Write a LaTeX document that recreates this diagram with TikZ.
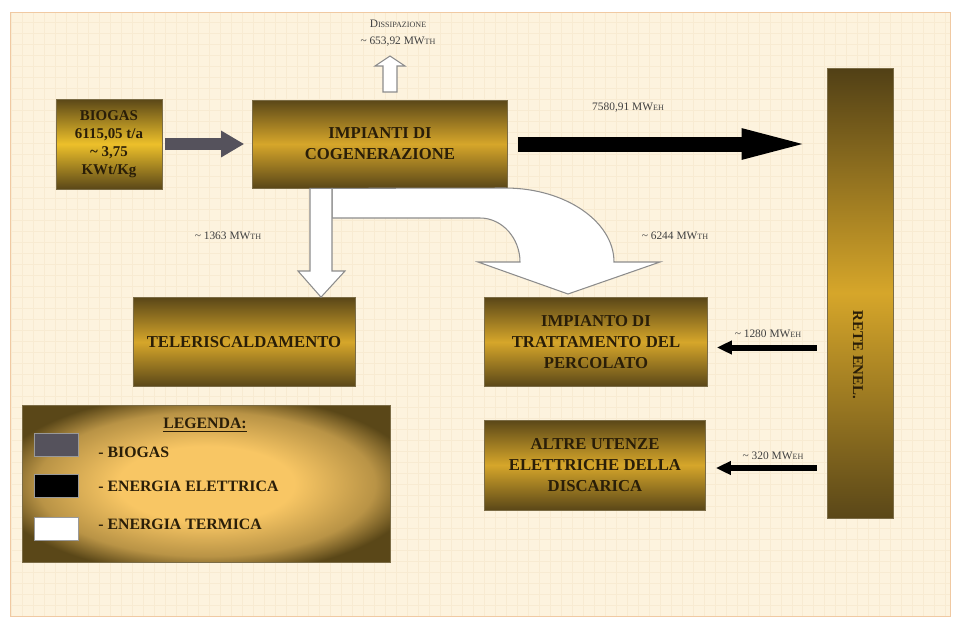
\documentclass[tikz,border=0pt]{standalone}
\usepackage{fontspec}
\setmainfont{Liberation Serif}
\usetikzlibrary{arrows.meta}
\definecolor{cream}{HTML}{FDF3DE}
\definecolor{gridc}{HTML}{F8EBD2}
\definecolor{edgec}{HTML}{F0C9A2}
\definecolor{olive}{HTML}{5A4718}
\definecolor{gold}{HTML}{D6A62A}
\definecolor{yellowgold}{HTML}{EDC02A}
\definecolor{paleg}{HTML}{F8C664}
\definecolor{ink}{HTML}{2A1E08}
\definecolor{gascol}{HTML}{55525C}
\pgfdeclareradialshading{legshade}{\pgfpoint{0bp}{0bp}}{color(0bp)=(paleg); color(12bp)=(paleg); color(23bp)=(paleg!60!olive); color(29bp)=(olive); color(50bp)=(olive)}
\newcommand{\lowcap}[1]{{\fontsize{4.6}{5}\selectfont #1}}
\begin{document}
\begin{tikzpicture}[x=0.02cm,y=-0.02cm,
  box/.style={rectangle, draw=olive!80, top color=olive, bottom color=olive, middle color=gold,
    text=ink, font=\bfseries\fontsize{9.5}{12}\selectfont, align=center, inner sep=0pt},
  lbl/.style={font=\fontsize{6.5}{7}\selectfont, text=black!75, inner sep=0pt},
  heat/.style={draw=black!45, fill=white, line width=0.6pt},
  legtxt/.style={font=\bfseries\fontsize{9}{10}\selectfont, text=ink, anchor=west, inner sep=0pt}]
\useasboundingbox (0,0) rectangle (954,623);
\fill[white] (0,0) rectangle (954,623);
\fill[cream] (10,12) rectangle (950,616);
\draw[gridc, step=0.22cm] (10,12) grid (950,616);
\draw[edgec] (10,12) rectangle (950,616);

% blocchi
\node[box, middle color=yellowgold, font=\bfseries\fontsize{8.5}{10.2}\selectfont,
  minimum width=2.12cm, minimum height=1.8cm] (bio) at (109,144)
  {BIOGAS\\6115,05 t/a\\\textasciitilde\ 3,75\\KWt/Kg};
\node[box, minimum width=5.1cm, minimum height=1.76cm] (cog) at (380,144)
  {IMPIANTI DI\\COGENERAZIONE};
\node[box, top color=olive!90!black, bottom color=olive, middle color=gold,
  minimum width=1.32cm, minimum height=9cm] (rete) at (860,293) {};
\node[rotate=-90, text=ink, font=\bfseries\fontsize{8.5}{9}\selectfont] (retetxt) at (858,355) {RETE ENEL.};
\node[box, minimum width=4.44cm, minimum height=1.78cm] (tele) at (244,342) {TELERISCALDAMENTO};
\node[box, minimum width=4.46cm, minimum height=1.78cm] (perc) at (596,342)
  {IMPIANTO DI\\TRATTAMENTO DEL\\PERCOLATO};
\node[box, minimum width=4.42cm, minimum height=1.8cm] (altre) at (595,465)
  {ALTRE UTENZE\\ELETTRICHE DELLA\\DISCARICA};

% frecce
\draw[gascol, line width=0.24cm, -{Triangle[length=0.46cm,width=0.5cm]},
  shorten <=0.06cm, shorten >=0.16cm] (bio.east) -- (cog.west);
\draw[black, line width=0.3cm, -{Triangle[length=1.5cm,width=0.52cm]},
  shorten <=0.2cm, shorten >=0.2cm] (cog.east) -- (cog.east -| rete.west);
\draw[black, line width=0.12cm, -{Triangle[length=0.3cm,width=0.26cm]},
  shorten <=0.2cm, shorten >=0.18cm] ([yshift=-0.11cm]perc.east -| rete.west) -- ([yshift=-0.11cm]perc.east);
\draw[black, line width=0.12cm, -{Triangle[length=0.3cm,width=0.26cm]},
  shorten <=0.2cm, shorten >=0.2cm] ([yshift=-0.06cm]altre.east -| rete.west) -- ([yshift=-0.06cm]altre.east);

\draw[heat] (332,0 |- cog.south) -- (505,188) .. controls (566,188) and (614,222) .. (614,262)
  -- (660,262) -- (568,294) -- (478,262) -- (520,262)
  .. controls (520,238) and (502,218) .. (480,218) -- (332,218) -- cycle;
\draw[heat] (310,0 |- cog.south) -- (310,271) -- (298,271) -- (321,0 |- tele.north)
  -- (345,271) -- (332,271) -- (332,0 |- cog.south) -- cycle;
\draw[heat] (383,92) -- (383,66) -- (375,66) -- (390,56) -- (405,66) -- (397,66) -- (397,92) -- cycle;

% etichette
\node[lbl, align=center, font=\fontsize{6.5}{9.6}\selectfont] (dis) at (398,33)
  {D\lowcap{ISSIPAZIONE}\\\textasciitilde\ 653,92 MW\lowcap{TH}};
\node[lbl] (el) at (628,108) {7580,91 MW\lowcap{EH}};
\node[lbl] (th1) at (228,236) {\textasciitilde\ 1363 MW\lowcap{TH}};
\node[lbl] (th2) at (675,236) {\textasciitilde\ 6244 MW\lowcap{TH}};
\node[lbl] (el1) at (768,334) {\textasciitilde\ 1280 MW\lowcap{EH}};
\node[lbl] (el2) at (773,456) {\textasciitilde\ 320 MW\lowcap{EH}};

% legenda
\node[rectangle, draw=olive!80, shading=legshade,
  minimum width=7.36cm, minimum height=3.14cm] (leg) at (206,484) {};
\node[text=ink, font=\bfseries\fontsize{9}{10}\selectfont] (legtit) at (205,425) {\underline{LEGENDA:}};
\draw[black!40, fill=gascol] (34,433) rectangle (78,456);
\draw[black!40, fill=black] (34,474) rectangle (78,497);
\draw[black!40, fill=white] (34,517) rectangle (78,540);
\node[legtxt] (lgas) at (98,452) {- BIOGAS};
\node[legtxt] (lel) at (98,486) {- ENERGIA ELETTRICA};
\node[legtxt] (lth) at (98,524) {- ENERGIA TERMICA};
\end{tikzpicture}
\end{document}
